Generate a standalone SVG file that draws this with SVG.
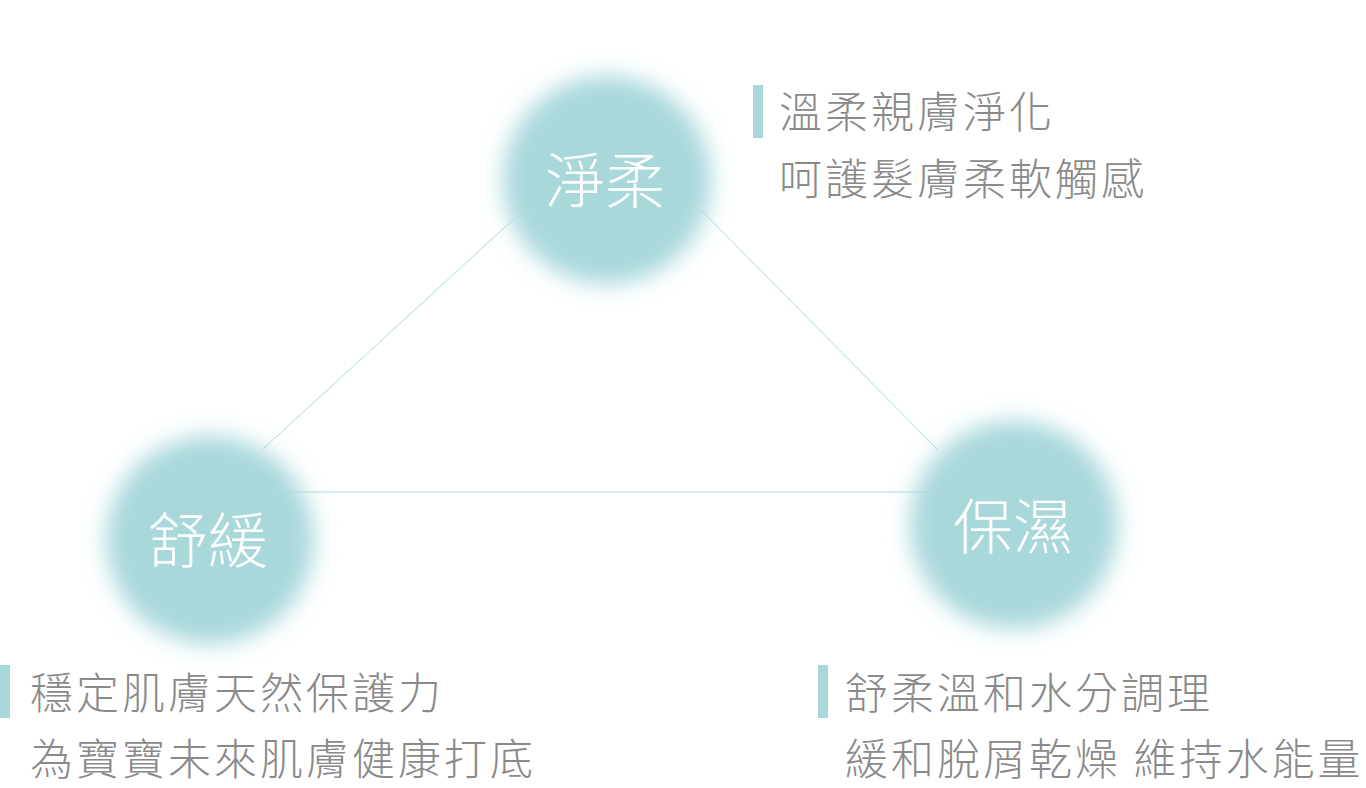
<svg xmlns="http://www.w3.org/2000/svg" width="1366" height="788" viewBox="0 0 1366 788">
  <defs>
    <filter id="soft" x="-50%" y="-50%" width="200%" height="200%">
      <feGaussianBlur stdDeviation="11"/>
    </filter>
    <style>
      .blob { fill: #a9d8db; filter: url(#soft); }
      .label { font-family: "Noto Sans CJK TC", "Noto Sans CJK SC", sans-serif; font-size: 60px; font-weight: 300; fill: #ffffff; text-anchor: middle; }
      .desc { font-family: "Noto Sans CJK TC", "Noto Sans CJK SC", sans-serif; font-size: 43px; font-weight: 300; fill: #8a8a8a; letter-spacing: 3px; }
      .bar { fill: #a9d8db; }
      .conn { stroke: #aadadd; stroke-width: 1; fill: none; }
    </style>
  </defs>
  <rect width="1366" height="788" fill="#ffffff"/>
  <g id="node-jingrou">
    <circle class="blob" cx="607" cy="180" r="104"/>
    <text class="label" x="605" y="203">淨柔</text>
  </g>
  <g id="node-shuhuan">
    <circle class="blob" cx="210" cy="540" r="104"/>
    <text class="label" x="208" y="563">舒緩</text>
  </g>
  <g id="node-baoshi">
    <circle class="blob" cx="1014" cy="525" r="104"/>
    <text class="label" x="1013" y="549">保濕</text>
  </g>
  <g id="connectors">
    <line class="conn" x1="516" y1="217" x2="263" y2="449"/>
    <line class="conn" x1="701" y1="210" x2="938" y2="450"/>
    <line class="conn" x1="280" y1="492" x2="933" y2="492"/>
  </g>
  <g id="desc-jingrou">
    <rect class="bar" x="753" y="85" width="10" height="53"/>
    <text class="desc" x="779" y="128">溫柔親膚淨化</text>
    <text class="desc" x="779" y="195">呵護髮膚柔軟觸感</text>
  </g>
  <g id="desc-shuhuan">
    <rect class="bar" x="0" y="665" width="10" height="53"/>
    <text class="desc" x="30" y="709">穩定肌膚天然保護力</text>
    <text class="desc" x="30" y="775">為寶寶未來肌膚健康打底</text>
  </g>
  <g id="desc-baoshi">
    <rect class="bar" x="818" y="665" width="10" height="53"/>
    <text class="desc" x="845" y="709">舒柔溫和水分調理</text>
    <text class="desc" x="845" y="775">緩和脫屑乾燥 維持水能量</text>
  </g>
</svg>
